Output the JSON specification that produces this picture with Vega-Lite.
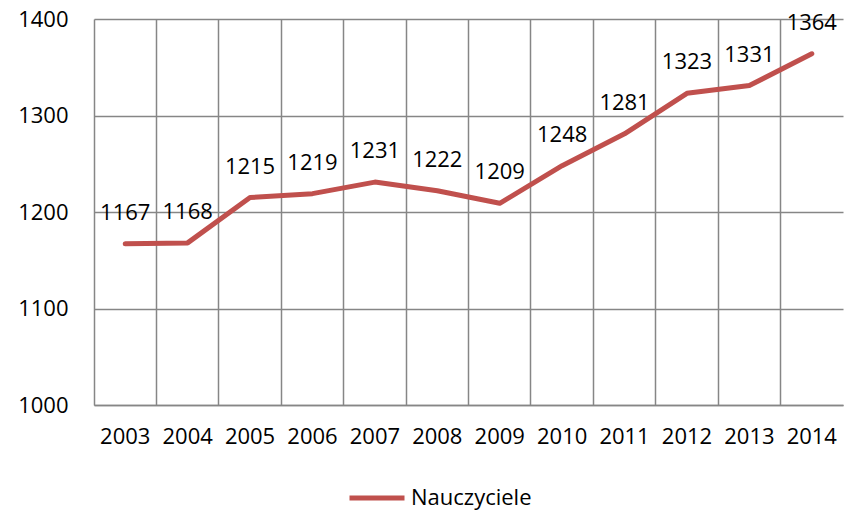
{
  "$schema": "https://vega.github.io/schema/vega-lite/v6.json",
  "width": 749,
  "height": 386,
  "autosize": {"type": "none"},
  "padding": {"left": 94, "top": 19, "right": 3, "bottom": 108},
  "background": "white",
  "config": {
    "view": {"stroke": null},
    "font": "Open Sans",
    "axis": {"labelFont": "Open Sans", "labelFontSize": 22, "labelColor": "#000000", "gridColor": "#868686", "gridWidth": 1.5, "domainColor": "#868686", "domainWidth": 1.5, "title": null, "ticks": false}
  },
  "data": {
    "values": [
      {"year": "2003", "value": 1167, "series": "Nauczyciele"},
      {"year": "2004", "value": 1168, "series": "Nauczyciele"},
      {"year": "2005", "value": 1215, "series": "Nauczyciele"},
      {"year": "2006", "value": 1219, "series": "Nauczyciele"},
      {"year": "2007", "value": 1231, "series": "Nauczyciele"},
      {"year": "2008", "value": 1222, "series": "Nauczyciele"},
      {"year": "2009", "value": 1209, "series": "Nauczyciele"},
      {"year": "2010", "value": 1248, "series": "Nauczyciele"},
      {"year": "2011", "value": 1281, "series": "Nauczyciele"},
      {"year": "2012", "value": 1323, "series": "Nauczyciele"},
      {"year": "2013", "value": 1331, "series": "Nauczyciele"},
      {"year": "2014", "value": 1364, "series": "Nauczyciele"}
    ]
  },
  "encoding": {
    "x": {
      "field": "year", "type": "ordinal", "bandPosition": 0.5,
      "scale": {"type": "band", "paddingInner": 0, "paddingOuter": 0},
      "axis": {"labelAngle": 0, "grid": true, "bandPosition": 0, "labelPadding": 21, "domain": true}
    },
    "y": {
      "field": "value", "type": "quantitative",
      "scale": {"domain": [1000, 1400], "nice": false, "zero": false},
      "axis": {"values": [1000, 1100, 1200, 1300, 1400], "format": "d", "grid": true, "domain": false, "labelPadding": 26, "labelBaseline": "middle"}
    }
  },
  "layer": [
    {
      "mark": {"type": "line", "strokeWidth": 5, "strokeCap": "round", "strokeJoin": "round"},
      "encoding": {
        "color": {
          "field": "series", "type": "nominal",
          "scale": {"range": ["#C0504D"]},
          "legend": {
            "title": null, "orient": "none", "legendX": 253, "legendY": 449,
            "direction": "horizontal", "symbolType": "stroke", "symbolSize": 3025,
            "symbolStrokeWidth": 5, "labelFontSize": 22, "labelFont": "Open Sans",
            "labelColor": "#000000", "labelOffset": 4
          }
        }
      }
    },
    {
      "mark": {"type": "text", "dy": -31, "fontSize": 22, "font": "Open Sans", "color": "#000000"},
      "encoding": {"text": {"field": "value", "type": "quantitative", "format": "d"}}
    }
  ]
}
